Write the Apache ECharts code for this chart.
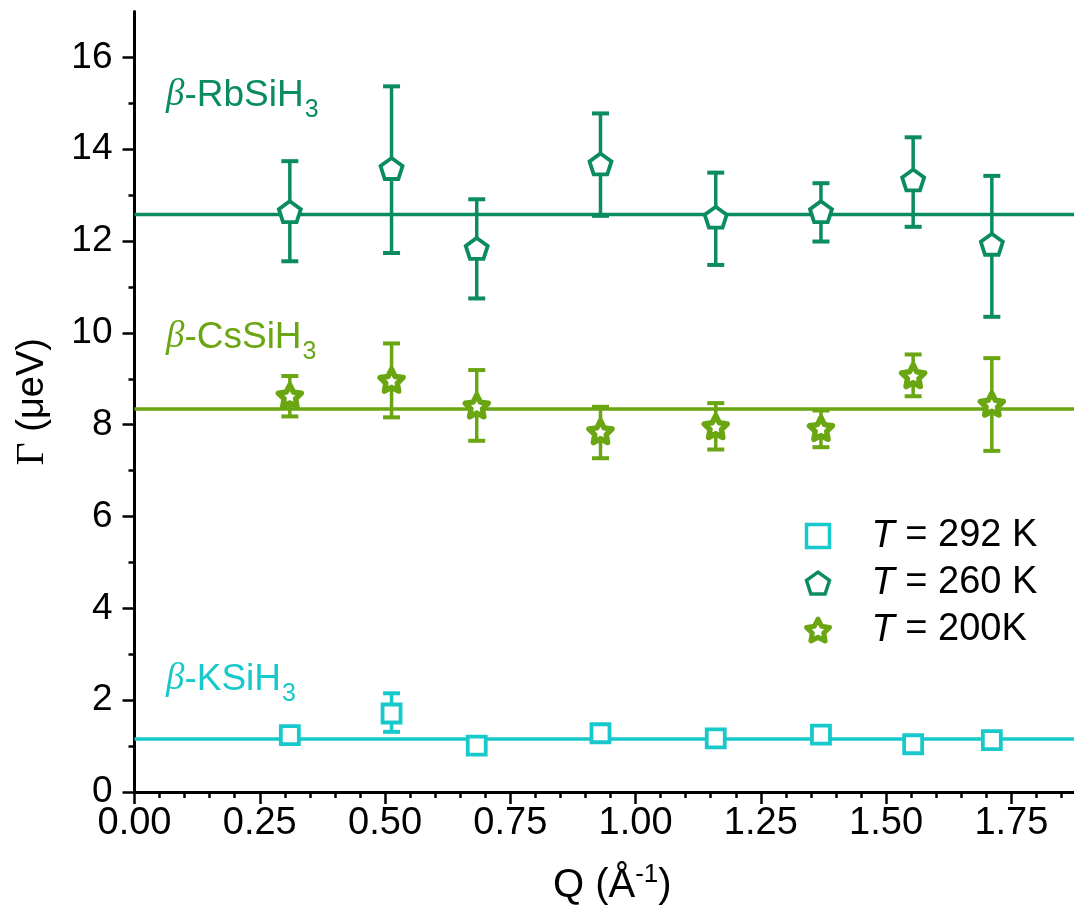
<!DOCTYPE html>
<html><head><meta charset="utf-8">
<script src="https://cdn.jsdelivr.net/npm/echarts@6/dist/echarts.min.js"></script>
<style>html,body{margin:0;padding:0;background:#fff}#c{width:1074px;height:917px}</style>
</head><body><div id="c"></div>
<script>
// ---- data ----
const Q = [0.31, 0.513, 0.683, 0.93, 1.16, 1.37, 1.554, 1.711];

const kName = '292 K';
const kVal  = [1.24, 1.71, 1.01, 1.28, 1.17, 1.25, 1.04, 1.13];
const kLow  = [1.14, 1.31, 0.95, 1.22, 1.11, 1.17, 0.95, 1.05];
const kHigh = [1.34, 2.15, 1.07, 1.34, 1.23, 1.33, 1.13, 1.21];
const kFit  = 1.155;

const rbName = '260 K';
const rbVal  = [12.64, 13.58, 11.84, 13.68, 12.52, 12.64, 13.33, 11.93];
const rbLow  = [11.56, 11.74, 10.75, 12.55, 11.48, 11.99, 12.31, 10.35];
const rbHigh = [13.74, 15.37, 12.91, 14.78, 13.49, 13.26, 14.26, 13.42];
const rbFit  = 12.58;

const csName = '200K';
const csVal  = [8.63, 8.97, 8.41, 7.85, 7.96, 7.92, 9.07, 8.45];
const csLow  = [8.18, 8.16, 7.65, 7.27, 7.46, 7.51, 8.62, 7.43];
const csHigh = [9.06, 9.77, 9.19, 8.39, 8.47, 8.31, 9.53, 9.45];
const csFit  = 8.34;

const xTicks = [0, 0.25, 0.5, 0.75, 1.0, 1.25, 1.5, 1.75];
const yTicks = [0, 2, 4, 6, 8, 10, 12, 14, 16];
const xRange = [0, 1.875];
const yRange = [0, 17];

// ---- styles ----
const cK = '#17C9CA', cRb = '#0A8C5E', cCs = '#6AA512';
const FONT = "'Liberation Sans', Arial, sans-serif";
const pentagon = 'path://M0,-10 L9.511,-3.09 L5.878,8.09 L-5.878,8.09 L-9.511,-3.09 Z';
const star = 'path://M0,-10 L2.939,-4.045 L9.511,-3.09 L4.755,1.545 L5.878,8.09 L0,5 L-5.878,8.09 L-4.755,1.545 L-9.511,-3.09 L-2.939,-4.045 Z';

function pts(vals){ return Q.map((q,i)=>[q, vals[i]]); }
function errs(lo, hi){ return Q.map((q,i)=>[q, lo[i], hi[i]]); }
function errRender(color){
  return function(params, api){
    const x = api.value(0);
    const pl = api.coord([x, api.value(1)]);
    const ph = api.coord([x, api.value(2)]);
    const w = 8.5;
    const s = {stroke: color, lineWidth: 3.5, fill: null};
    const sc = {stroke: color, lineWidth: 4, fill: null};
    return {type:'group', children:[
      {type:'line', shape:{x1:ph[0], y1:ph[1], x2:pl[0], y2:pl[1]}, style:s},
      {type:'line', shape:{x1:ph[0]-w, y1:ph[1], x2:ph[0]+w, y2:ph[1]}, style:sc},
      {type:'line', shape:{x1:pl[0]-w, y1:pl[1], x2:pl[0]+w, y2:pl[1]}, style:sc}
    ]};
  };
}
function fitLine(v, color){
  return {type:'line', data:[[xRange[0], v],[xRange[1], v]], symbol:'none', silent:true,
    lineStyle:{color:color, width:3.5, opacity:1}, z:1, animation:false};
}
function errSeries(lo, hi, color){
  return {type:'custom', renderItem: errRender(color), data: errs(lo, hi), z:2, silent:true,
    encode:{x:0, y:[1,2]}, animation:false};
}
function labelText(formula, color, x, y){
  const base = {fontSize:37, fontFamily:FONT, fill:color, verticalAlign:'top', lineHeight:40};
  return {type:'text', x:x, y:y, z:10, style:{
    text:'{b|β}{n|-' + formula + '}{s|3}', fill: color, align:'left', verticalAlign:'middle',
    rich:{
      b:Object.assign({}, base, {fontFamily:"'Liberation Serif', serif", fontStyle:'italic'}),
      n:base,
      s:{fontSize:25, fontFamily:FONT, fill:color, verticalAlign:'top', lineHeight:25, padding:[21,0,0,1]}
    }}};
}

const chart = echarts.init(document.getElementById('c'), null, {renderer:'canvas'});
chart.setOption({
  animation:false,
  backgroundColor:'#ffffff',
  grid:{left:134.5, right:0, top:11.5, bottom:125, containLabel:false},
  xAxis:{
    type:'value', min:xRange[0], max:xRange[1], interval:0.25,
    name:'{n|Q (Å}{p|-1}{n|)}', nameLocation:'middle', nameGap:70,
    nameTextStyle:{color:'#000', padding:[0,0,0,16], rich:{
      n:{fontSize:40, fontFamily:FONT, color:'#000', verticalAlign:'bottom', lineHeight:44},
      p:{fontSize:26, fontFamily:FONT, color:'#000', verticalAlign:'bottom', lineHeight:26, padding:[0,0,18,0]}
    }},
    axisLine:{lineStyle:{color:'#000', width:3}},
    axisTick:{show:true, inside:false, length:12, lineStyle:{color:'#000', width:2.5}, customValues:xTicks},
    minorTick:{show:true, splitNumber:5, length:6, lineStyle:{color:'#000', width:2.5}},
    axisLabel:{customValues:xTicks, fontSize:38, fontFamily:FONT, color:'#000', margin:13,
      formatter:(v)=>v.toFixed(2)},
    splitLine:{show:false}
  },
  yAxis:{
    type:'value', min:yRange[0], max:yRange[1], interval:2,
    name:'{g|Γ}{n| (μeV)}', nameLocation:'middle', nameGap:82, nameRotate:90,
    nameTextStyle:{color:'#000', rich:{
      g:{fontSize:40, fontFamily:"'Liberation Serif', serif", color:'#000'},
      n:{fontSize:38, fontFamily:FONT, color:'#000'}
    }},
    axisLine:{show:true, lineStyle:{color:'#000', width:3}},
    axisTick:{show:true, inside:false, length:12, lineStyle:{color:'#000', width:2.5}, customValues:yTicks},
    minorTick:{show:true, splitNumber:2, length:6, lineStyle:{color:'#000', width:2.5}},
    axisLabel:{customValues:yTicks, fontSize:37, fontFamily:FONT, color:'#000', margin:22},
    splitLine:{show:false}
  },
  legend:{
    orient:'vertical', left:799, top:511, itemWidth:23, itemHeight:23, itemGap:7,
    data:[
      {name:kName, itemStyle:{borderWidth:3.5, opacity:1}},
      {name:rbName, itemStyle:{borderWidth:3.5, opacity:1}},
      {name:csName, itemStyle:{borderWidth:5, opacity:1}}
    ],
    formatter:(n)=>'{i|T} = ' + n,
    textStyle:{fontSize:38, fontFamily:FONT, color:'#000', lineHeight:40, padding:[0,0,0,37],
      rich:{i:{fontStyle:'italic', fontSize:38, fontFamily:FONT, color:'#000'}}}
  },
  graphic:[
    labelText('RbSiH', cRb, 166, 97),
    labelText('CsSiH', cCs, 166, 339),
    labelText('KSiH', cK, 166, 681)
  ],
  series:[
    fitLine(rbFit, cRb), fitLine(csFit, cCs), fitLine(kFit, cK),
    errSeries(rbLow, rbHigh, cRb), errSeries(csLow, csHigh, cCs), errSeries(kLow, kHigh, cK),
    {name:kName, type:'scatter', data:pts(kVal), symbol:'rect', symbolSize:18, z:3,
      itemStyle:{color:'#fff', borderColor:cK, borderWidth:3.8, opacity:1}, emphasis:{disabled:true}},
    {name:rbName, type:'scatter', data:pts(rbVal), symbol:pentagon, symbolSize:22, symbolKeepAspect:true, z:3,
      itemStyle:{color:'#fff', borderColor:cRb, borderWidth:3.8, opacity:1}, emphasis:{disabled:true}},
    {name:csName, type:'scatter', data:pts(csVal), symbol:star, symbolSize:23, symbolKeepAspect:true, z:3,
      itemStyle:{color:'#fff', borderColor:cCs, borderWidth:5.5, borderJoin:'round', opacity:1}, emphasis:{disabled:true}}
  ]
});
</script>
</body></html>
